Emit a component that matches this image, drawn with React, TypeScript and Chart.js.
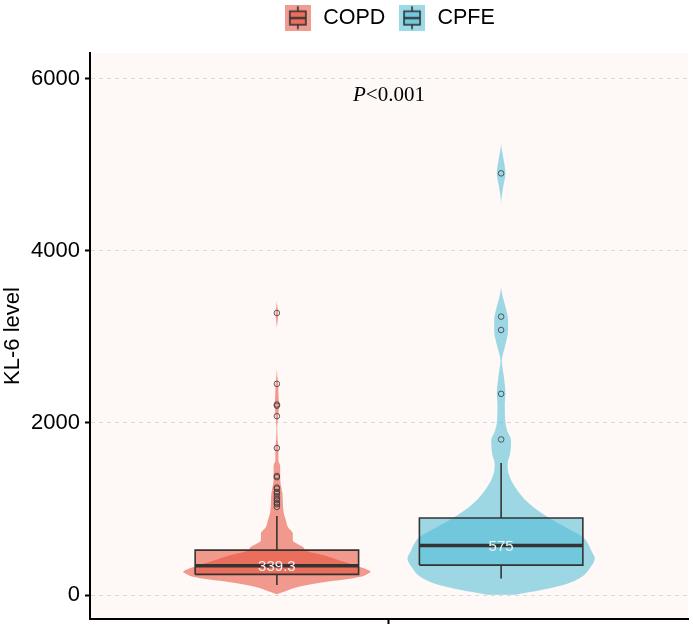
import React, { useEffect, useRef } from 'react';
import { Chart, registerables } from 'chart.js';

Chart.register(...registerables);

// ---------------- data ----------------
const GROUPS = ['COPD', 'CPFE'];
const GROUP_POS = [0.775, 1.225];

// [lower whisker, Q1, median, Q3, upper whisker]
const COPD_BOX = [116, 240, 339.3, 522, 920];
const CPFE_BOX = [193, 348, 575, 896, 1534];

const COPD_OUTLIERS = [1024, 1055, 1070, 1102, 1121, 1148, 1179, 1198, 1237, 1249, 1370, 1383, 1708, 2079, 2200, 2214, 2454, 3277];
const CPFE_OUTLIERS = [1808, 2338, 3080, 3235, 4900];

// violin outline: value and relative density (max = 1)
const COPD_VIOLIN_Y = [10, 38, 97, 154, 174, 213, 240, 270, 300, 336, 370, 406, 460, 513, 560, 638, 715, 792, 870, 947, 1063, 1179, 1295, 1383, 1500, 1565, 1708, 1820, 1950, 2068, 2222, 2300, 2440, 2570, 2650, 3100, 3200, 3277, 3350, 3420];
const COPD_VIOLIN_D = [0, 0.074, 0.234, 0.532, 0.681, 0.894, 0.957, 1, 0.957, 0.862, 0.766, 0.66, 0.511, 0.319, 0.277, 0.17, 0.17, 0.117, 0.096, 0.074, 0.064, 0.059, 0.039, 0.035, 0.035, 0.016, 0.016, 0.007, 0.004, 0.013, 0.023, 0.018, 0.014, 0.003, 0, 0, 0.009, 0.013, 0.006, 0];
const CPFE_VIOLIN_Y = [5, 58, 135, 213, 329, 425, 502, 600, 676, 780, 889, 1063, 1256, 1411, 1527, 1643, 1797, 1913, 2029, 2222, 2338, 2531, 2725, 2879, 3072, 3188, 3343, 3459, 3594, 4541, 4734, 4900, 5082, 5256];
const CPFE_VIOLIN_D = [0.149, 0.426, 0.713, 0.862, 0.957, 1, 0.968, 0.926, 0.872, 0.702, 0.521, 0.298, 0.149, 0.08, 0.069, 0.096, 0.106, 0.064, 0.043, 0.039, 0.046, 0.03, 0.007, 0.039, 0.074, 0.074, 0.048, 0.019, 0, 0, 0.021, 0.046, 0.023, 0];

const Y_TICKS = [0, 2000, 4000, 6000];
const Y_LIMITS = [-278, 6298];
const X_LIMITS = [0.4, 1.6];
const X_TICKS = [1];
const Y_TITLE = 'KL-6 level';
const P_TEXT = ['P', '<0.001'];
const P_POS = [1, 5800];

// ---------------- styles ----------------
const FILLS = ['rgba(230,75,53,0.55)', 'rgba(77,187,213,0.55)'];
const LINE = '#333333';
const VIOLIN_HALF = 0.188;
const BOX_HALF = 0.164;
const PANEL_BG = '#FEF8F7';
const SANS = "'Liberation Sans', Arial, sans-serif";
const SERIF = "'Liberation Serif', 'Times New Roman', serif";

const BOXES = [COPD_BOX, CPFE_BOX];
const OUTLIERS = [COPD_OUTLIERS, CPFE_OUTLIERS];
const VIOLINS = [
  [COPD_VIOLIN_Y, COPD_VIOLIN_D],
  [CPFE_VIOLIN_Y, CPFE_VIOLIN_D],
];

function violinPoints(cx: number, ys: number[], ds: number[]) {
  const right = ys.map((v, i) => ({ x: cx + ds[i] * VIOLIN_HALF, y: v }));
  const left = ys.map((v, i) => ({ x: cx - ds[i] * VIOLIN_HALF, y: v })).reverse();
  return [...right, ...left];
}

function makeKey(fill: string) {
  const c = document.createElement('canvas');
  c.width = 26;
  c.height = 26;
  const g = c.getContext('2d')!;
  g.fillStyle = fill;
  g.fillRect(0, 0, 26, 26);
  g.fillStyle = fill;
  g.fillRect(5, 6.5, 16, 13.5);
  g.strokeStyle = LINE;
  g.lineWidth = 1.6;
  g.strokeRect(5, 6.5, 16, 13.5);
  g.beginPath();
  g.moveTo(13, 1.5);
  g.lineTo(13, 6.5);
  g.moveTo(13, 20);
  g.lineTo(13, 24.5);
  g.stroke();
  g.lineWidth = 2.2;
  g.beginPath();
  g.moveTo(5, 13.3);
  g.lineTo(21, 13.3);
  g.stroke();
  return c;
}

export default function App() {
  const ref = useRef<HTMLCanvasElement | null>(null);

  useEffect(() => {
    if (!ref.current) return;
    const keys = FILLS.map(makeKey);
    const datasets: any[] = [];
    GROUPS.forEach((g, gi) => {
      const cx = GROUP_POS[gi];
      const [lo, q1, med, q3, hi] = BOXES[gi];
      const [vy, vd] = VIOLINS[gi];
      datasets.push({
        type: 'line',
        label: g + ' violin',
        data: violinPoints(cx, vy, vd),
        indexAxis: 'y',
        fill: 'shape',
        backgroundColor: FILLS[gi],
        borderWidth: 0,
        pointRadius: 0,
        cubicInterpolationMode: 'monotone',
        order: 6,
      });
      datasets.push({
        type: 'line',
        label: g + ' box',
        data: [
          { x: cx - BOX_HALF, y: q1 },
          { x: cx + BOX_HALF, y: q1 },
          { x: cx + BOX_HALF, y: q3 },
          { x: cx - BOX_HALF, y: q3 },
          { x: cx - BOX_HALF, y: q1 },
        ],
        fill: 'shape',
        backgroundColor: FILLS[gi],
        borderColor: LINE,
        borderWidth: 1.6,
        borderJoinStyle: 'miter',
        pointRadius: 0,
        tension: 0,
        order: 5,
      });
      datasets.push({
        type: 'line',
        label: g + ' upper whisker',
        data: [{ x: cx, y: q3 }, { x: cx, y: hi }],
        borderColor: LINE,
        borderWidth: 1.6,
        pointRadius: 0,
        fill: false,
        order: 4,
      });
      datasets.push({
        type: 'line',
        label: g + ' lower whisker',
        data: [{ x: cx, y: lo }, { x: cx, y: q1 }],
        borderColor: LINE,
        borderWidth: 1.6,
        pointRadius: 0,
        fill: false,
        order: 4,
      });
      datasets.push({
        type: 'line',
        label: g + ' median',
        data: [{ x: cx - BOX_HALF, y: med }, { x: cx + BOX_HALF, y: med }],
        borderColor: LINE,
        borderWidth: 3.5,
        pointRadius: 0,
        fill: false,
        order: 3,
      });
      datasets.push({
        type: 'scatter',
        label: g + ' outliers',
        data: OUTLIERS[gi].map((v) => ({ x: cx, y: v })),
        pointRadius: 2.8,
        pointBorderWidth: 1,
        pointBorderColor: 'rgba(50,50,50,0.75)',
        pointBackgroundColor: 'rgba(0,0,0,0)',
        order: 2,
      });
    });

    const decor = {
      id: 'decor',
      beforeDraw(chart: any) {
        const { ctx, chartArea } = chart;
        ctx.save();
        ctx.fillStyle = PANEL_BG;
        ctx.fillRect(chartArea.left, chartArea.top, chartArea.right - chartArea.left, chartArea.bottom - chartArea.top);
        ctx.restore();
      },
      afterDatasetsDraw(chart: any) {
        const { ctx } = chart;
        const xs = chart.scales.x;
        const ys = chart.scales.y;
        ctx.save();
        ctx.font = `15px ${SANS}`;
        ctx.fillStyle = '#F2F2F2';
        ctx.textAlign = 'center';
        ctx.textBaseline = 'middle';
        GROUPS.forEach((g, gi) => {
          const med = BOXES[gi][2];
          ctx.fillText(String(med), xs.getPixelForValue(GROUP_POS[gi]), ys.getPixelForValue(med) + 1);
        });
        const px = xs.getPixelForValue(P_POS[0]);
        const py = ys.getPixelForValue(P_POS[1]);
        ctx.fillStyle = '#000';
        ctx.textAlign = 'left';
        ctx.font = `italic 21px ${SERIF}`;
        const w1 = ctx.measureText(P_TEXT[0]).width;
        ctx.font = `21px ${SERIF}`;
        const w2 = ctx.measureText(P_TEXT[1]).width;
        const x0 = px - (w1 + w2) / 2;
        ctx.font = `italic 21px ${SERIF}`;
        ctx.fillText(P_TEXT[0], x0, py);
        ctx.font = `21px ${SERIF}`;
        ctx.fillText(P_TEXT[1], x0 + w1, py);
        ctx.restore();
      },
    };

    const chart = new Chart(ref.current, {
      type: 'scatter',
      data: { datasets },
      options: {
        animation: false,
        responsive: false,
        events: [],
        layout: { padding: { top: -5, left: 0, right: 4, bottom: 0 } },
        font: { family: SANS },
        plugins: {
          tooltip: { enabled: false },
          title: { display: true, text: '', weight: 500, padding: 0, font: { size: 14.5, lineHeight: 1 } },
          legend: {
            display: true,
            position: 'top',
            align: 'center',
            fullSize: false,
            labels: {
              usePointStyle: true,
              pointStyleWidth: 29.3,
              padding: 12,
              color: '#000',
              font: { size: 21.5, family: SANS },
              generateLabels: () =>
                GROUPS.map((g, gi) => ({
                  text: g,
                  pointStyle: keys[gi],
                  fillStyle: FILLS[gi],
                  strokeStyle: LINE,
                  lineWidth: 0,
                  hidden: false,
                  fontColor: '#000',
                  datasetIndex: gi,
                })),
            },
          },
        },
        scales: {
          x: {
            type: 'linear',
            min: X_LIMITS[0],
            max: X_LIMITS[1],
            afterBuildTicks: (s: any) => {
              s.ticks = X_TICKS.map((v) => ({ value: v }));
            },
            afterFit: (s: any) => {
              s.height = 9;
              s.paddingLeft = 0;
              s.paddingRight = 0;
            },
            ticks: { display: false },
            grid: { display: true, drawOnChartArea: false, drawTicks: true, tickLength: 5, tickColor: '#000', tickWidth: 2 },
            border: { display: true, color: '#000', width: 2 },
          },
          y: {
            type: 'linear',
            min: Y_LIMITS[0],
            max: Y_LIMITS[1],
            afterBuildTicks: (s: any) => {
              s.ticks = Y_TICKS.map((v) => ({ value: v }));
            },
            afterFit: (s: any) => {
              s.width = 90;
              s.paddingTop = 0;
              s.paddingBottom = 0;
            },
            ticks: { font: { size: 22, family: SANS }, color: '#000', padding: 5, callback: (v: any) => String(v) },
            grid: { color: '#DADADA', lineWidth: 1, drawTicks: true, tickLength: 5, tickColor: '#000', tickWidth: 2 },
            border: { display: true, color: '#000', width: 2, dash: [4, 4] },
            title: { display: true, text: Y_TITLE, font: { size: 22, family: SANS }, color: '#000', padding: 0 },
          },
        },
      } as any,
      plugins: [decor],
    });
    return () => chart.destroy();
  }, []);

  return (
    <div style={{ position: 'absolute', left: 0, top: 0, width: 693, height: 628, background: '#fff' }}>
      <canvas ref={ref} width={693} height={628} style={{ width: 693, height: 628, display: 'block' }} />
    </div>
  );
}
